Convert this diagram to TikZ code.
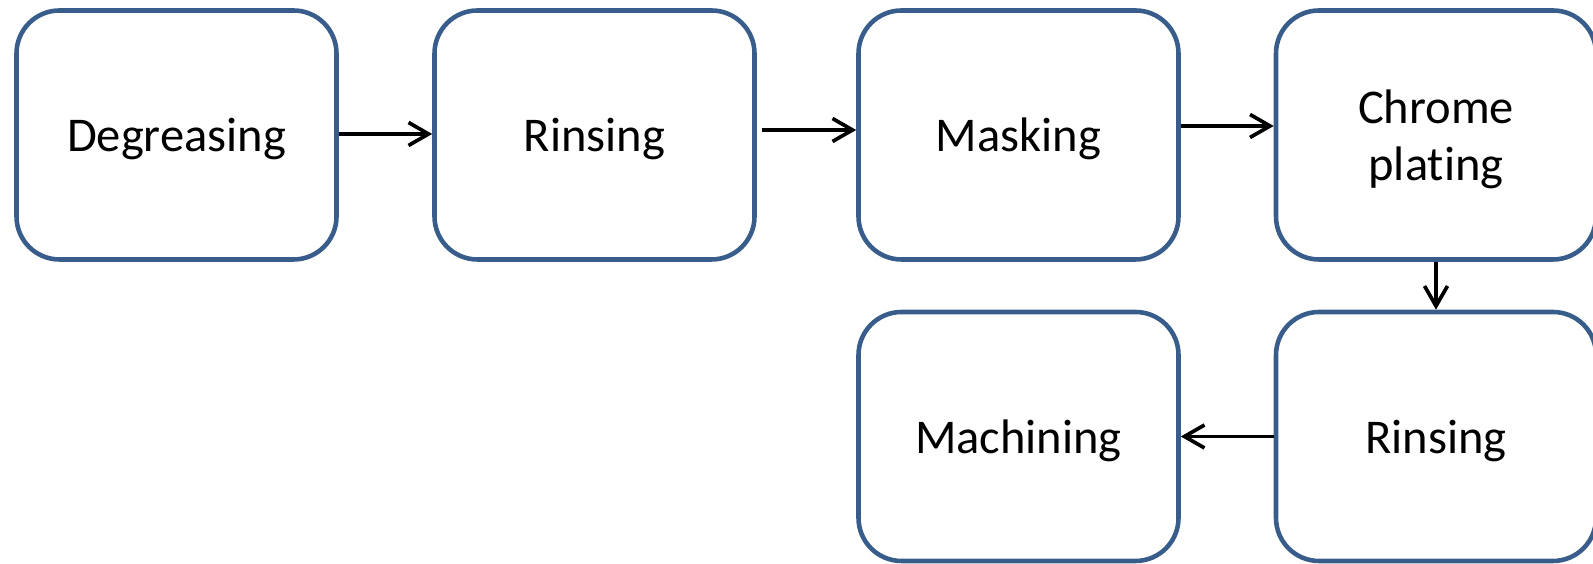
\documentclass[tikz,border=0pt]{standalone}
\usepackage{fontspec}
\setmainfont{Carlito}[RawFeature=-liga]
\usetikzlibrary{arrows.meta}
\definecolor{boxblue}{RGB}{56,93,138}

\begin{document}
\begin{tikzpicture}[
  stage/.style={draw=boxblue, line width=1.3pt, rounded corners=0.43cm,
    minimum width=3.2cm, minimum height=2.49cm, inner sep=0pt,
    text depth=0pt, align=center, font=\fontsize{13.8}{16.2}\selectfont},
  flow/.style={-{Straight Barb[length=0.2cm,width=0.23cm]}, line width=1.05pt}
]
\useasboundingbox (0,0) rectangle (15.93,5.64);

% Top row
\node[stage] (deg) at (1.765,4.29) {Degreasing};
\node[stage] (rin1) at (5.945,4.29) {Rinsing};
\node[stage] (mask) at (10.185,4.29) {Masking};
\node[stage] (chrome) at (14.36,4.29) {Chrome\\plating};

% Bottom row
\node[stage] (rin2) at (14.36,1.275) {Rinsing};
\node[stage] (mach) at (10.185,1.275) {Machining};

\draw[flow] ([yshift=0.01cm]deg.east) -- ([yshift=0.01cm]rin1.west);
\draw[flow] ([xshift=0.05cm,yshift=0.05cm]rin1.east) -- ([yshift=0.05cm]mask.west);
\draw[flow] ([yshift=0.09cm]mask.east) -- ([yshift=0.09cm]chrome.west);
\draw[flow] (chrome.south) -- (rin2.north);
\draw[flow] (rin2.west) -- (mach.east);
\end{tikzpicture}
\end{document}
